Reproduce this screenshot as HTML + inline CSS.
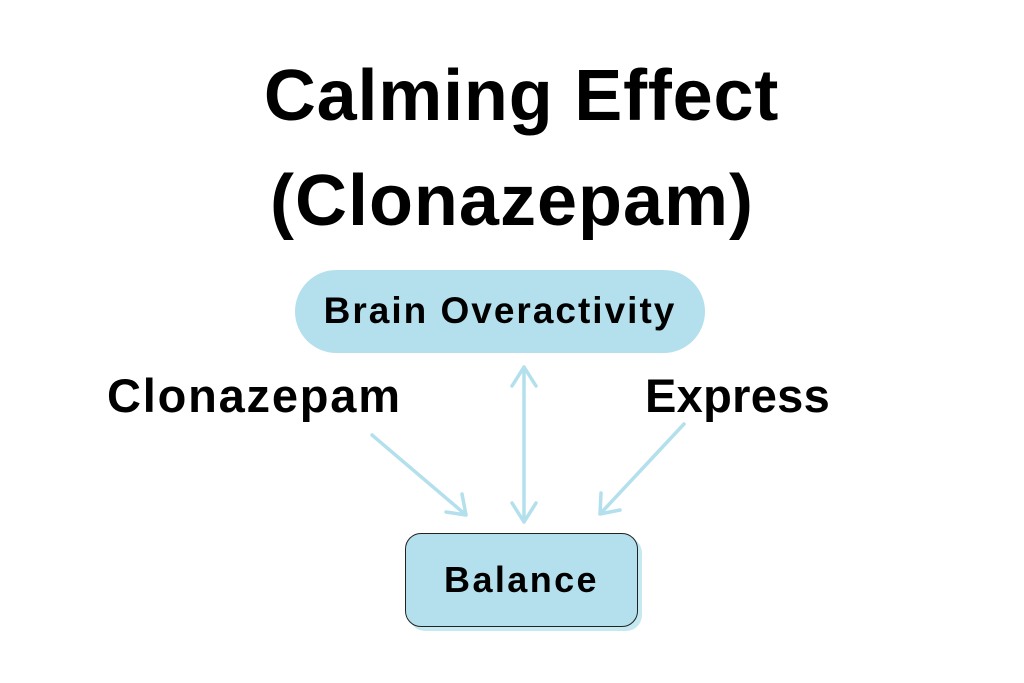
<!DOCTYPE html>
<html><head><style>
html,body{margin:0;padding:0;background:#fff;}
body{width:1024px;height:683px;position:relative;overflow:hidden;font-family:"Liberation Sans",sans-serif;font-weight:bold;color:#000;}
.t{position:absolute;white-space:nowrap;}
</style></head><body>
<div class="t" style="left:0;width:1043px;text-align:center;top:56px;font-size:72px;line-height:80px;letter-spacing:0.8px;">Calming Effect</div>
<div class="t" style="left:0;width:1024px;text-align:center;top:161px;font-size:72px;line-height:80px;letter-spacing:1px;">(Clonazepam)</div>
<div style="position:absolute;left:295px;top:270px;width:410px;height:83px;border-radius:42px;background:#b3e0ec;"></div>
<div class="t" style="left:295px;width:410px;text-align:center;top:289px;font-size:37px;line-height:44px;letter-spacing:2px;">Brain Overactivity</div>
<div class="t" style="left:107px;top:368px;font-size:47px;line-height:56px;letter-spacing:1.8px;">Clonazepam</div>
<div class="t" style="left:645px;top:368px;font-size:47px;line-height:56px;letter-spacing:0.3px;">Express</div>
<div style="position:absolute;left:409px;top:537px;width:233px;height:94px;border-radius:16px;background:#c6e8f1;"></div>
<div style="position:absolute;left:405px;top:533px;width:231px;height:92px;border-radius:16px;background:#b3e0ec;border:1px solid #222;"></div>
<div class="t" style="left:405px;width:233px;text-align:center;top:558px;font-size:36px;line-height:44px;letter-spacing:2.4px;">Balance</div>
<svg width="1024" height="683" style="position:absolute;left:0;top:0" fill="none" stroke="#b3e0ec" stroke-width="3.5" stroke-linecap="round" stroke-linejoin="round">
<path d="M372 435 L466 515 M462 494 L466 515 L446 512"/>
<path d="M524 367 L524 522 M512 386 L524 367 L536 386 M512 503 L524 522 L536 503"/>
<path d="M684 424 L600 514 M601 493 L600 514 L620 510"/>
</svg>
</body></html>
